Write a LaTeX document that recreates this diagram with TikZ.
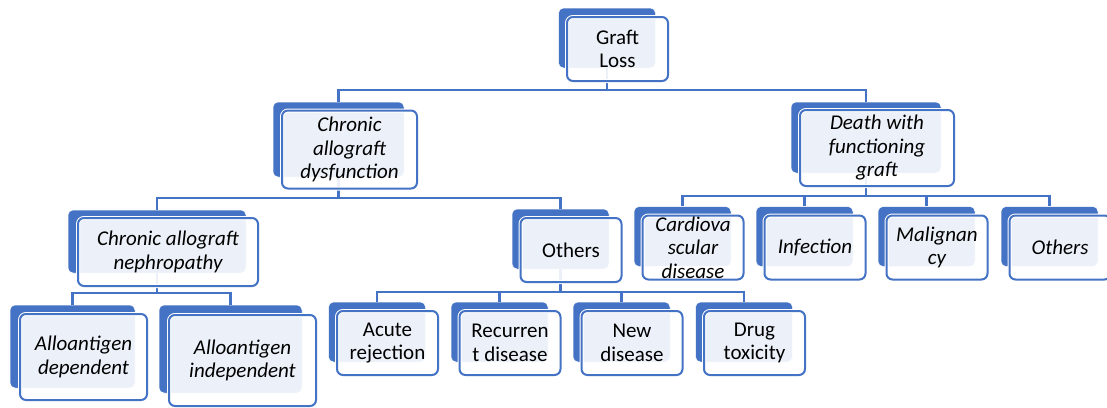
\documentclass[tikz,border=0pt]{standalone}
\usepackage{fontspec}
\setmainfont{Carlito}
\usepackage{xcolor}
\usepackage{tikz}
\definecolor{gfblue}{HTML}{4472C4}

\begin{document}
\begin{tikzpicture}[x=1pt, y=-1pt,
  backbox/.style 2 args={fill=gfblue, draw=white, line width=0.5pt, rounded corners=5pt, inner sep=0pt, minimum width=#1, minimum height=#2},
  frontbox/.style 2 args={preaction={draw=white, line width=4pt}, fill=white, fill opacity=0.9, text opacity=1, draw=gfblue, line width=2pt, rounded corners=6pt, inner sep=0pt, align=center, minimum width=#1, minimum height=#2, font=\fontsize{21}{23.5}\selectfont},
  small/.style={backbox={97pt}{60pt}},
  smallf/.style={frontbox={101pt}{64pt}},
  link/.style={draw=gfblue, line width=2.2pt}]
  \useasboundingbox (0,0) rectangle (1107,407);

  \node[small] (gl) at (607,38) {};
  \node[backbox={131pt}{75pt}] (cad) at (338.5,139.5) {};
  \node[backbox={150pt}{71pt}] (dwf) at (866,137.5) {};
  \node[backbox={178pt}{63pt}] (can) at (157,241.5) {};
  \node[small] (oth1) at (560.5,239) {};
  \node[backbox={125pt}{83pt}] (aad) at (72.5,346.5) {};
  \node[backbox={143pt}{88pt}] (aai) at (230.5,349) {};
  \node[small] (acr) at (377,332) {};
  \node[small] (rcd) at (499.5,332) {};
  \node[small] (nwd) at (621.5,332) {};
  \node[small] (drt) at (744,332) {};
  \node[small] (cvd) at (682.5,236.5) {};
  \node[small] (inf) at (804.5,236.5) {};
  \node[small] (mal) at (926.5,236.5) {};
  \node[small] (oth2) at (1049.5,236.5) {};

  \draw[link] (gl.south) -- ++(0,22) -| (cad.north);
  \draw[link] (gl.south) -- ++(0,22) -| (dwf.north);
  \draw[link] (cad.south) -- ++(0,21) -| (can.north);
  \draw[link] (cad.south) -- ++(0,21) -| (oth1.north);
  \draw[link] (can.south) -- ++(0,20) -| (aad.north);
  \draw[link] (can.south) -- ++(0,20) -| (aai.north);
  \draw[link] (oth1.south) -- ++(0,23) -| (acr.north);
  \draw[link] (oth1.south) -- ++(0,23) -| (rcd.north);
  \draw[link] (oth1.south) -- ++(0,23) -| (nwd.north);
  \draw[link] (oth1.south) -- ++(0,23) -| (drt.north);
  \draw[link] (dwf.south) -- ++(0,23) -| (cvd.north);
  \draw[link] (dwf.south) -- ++(0,23) -| (inf.north);
  \draw[link] (dwf.south) -- ++(0,23) -| (mal.north);
  \draw[link] (dwf.south) -- ++(0,23) -| (oth2.north);

  \node[smallf] (glf) at ([shift={(10.5,11)}]gl.center) {Graft\\Loss};
  \node[frontbox={135pt}{78pt}] (cadf) at ([shift={(11,10)}]cad.center) {\itshape Chronic\\\itshape allograft\\\itshape dysfunction};
  \node[frontbox={154pt}{76pt}] (dwff) at ([shift={(11,10.5)}]dwf.center) {\itshape Death with\\\itshape functioning\\\itshape graft};
  \node[frontbox={180pt}{68pt}] (canf) at ([shift={(11,10.5)}]can.center) {\itshape Chronic allograft\\\itshape nephropathy};
  \node[smallf] (oth1f) at ([shift={(10.5,11)}]oth1.center) {Others};
  \node[frontbox={127pt}{86pt}] (aadf) at ([shift={(11,10.5)}]aad.center) {\itshape Alloantigen\\\itshape dependent};
  \node[frontbox={147pt}{91pt}] (aaif) at ([shift={(12,11.5)}]aai.center) {\itshape Alloantigen\\\itshape independent};
  \node[smallf] (acrf) at ([shift={(10.5,11)}]acr.center) {Acute\\rejection};
  \node[smallf] (rcdf) at ([shift={(10.5,11)}]rcd.center) {Recurren\\t disease};
  \node[smallf] (nwdf) at ([shift={(10.5,11)}]nwd.center) {New\\disease};
  \node[smallf] (drtf) at ([shift={(10.5,11)}]drt.center) {Drug\\toxicity};
  \node[smallf] (cvdf) at ([shift={(10.5,11)}]cvd.center) {\itshape Cardiova\\\itshape scular\\\itshape disease};
  \node[smallf] (inff) at ([shift={(10.5,11)}]inf.center) {\itshape Infection};
  \node[smallf] (malf) at ([shift={(10.5,11)}]mal.center) {\itshape Malignan\\\itshape cy};
  \node[smallf] (oth2f) at ([shift={(10.5,11)}]oth2.center) {\itshape Others};
\end{tikzpicture}
\end{document}
